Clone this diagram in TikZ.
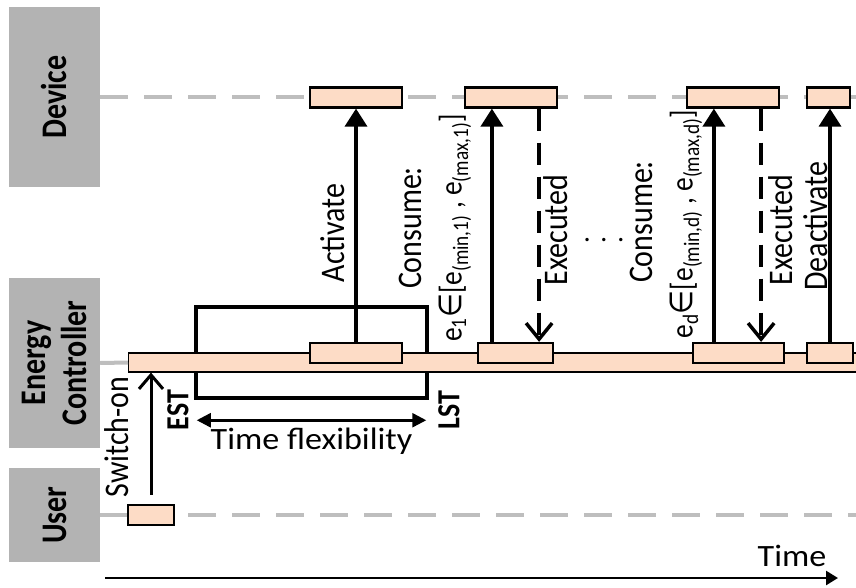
\documentclass[tikz,border=0pt]{standalone}
\usepackage{fontspec}
\setmainfont{Carlito}
\newfontfamily\symfont{DejaVu Sans}
\usetikzlibrary{arrows.meta,positioning}
\definecolor{SlotPeach}{HTML}{FDDCC6}
\definecolor{LaneGray}{HTML}{B3B3B3}
\definecolor{LifeGray}{HTML}{BEBEBE}
\tikzset{
  lane/.style={
    fill=LaneGray,
    rotate=90,
    yscale=1.2,
    minimum height=75.8pt,
    inner sep=0pt,
    align=center,
    font=\fontsize{30}{34}\selectfont\bfseries
  },
  slot/.style={draw=black, fill=SlotPeach, line width=2.2pt, minimum height=20pt, inner sep=0pt},
  lifeline/.style={draw=LifeGray, line width=4pt, dash pattern=on 28pt off 16pt},
  msg/.style={-{Triangle[length=18pt,width=22pt]}, line width=3.5pt},
  reply/.style={-{Straight Barb[length=16pt,width=26pt]}, line width=3.5pt, dash pattern=on 22pt off 12pt},
  vlabel/.style={rotate=90, yscale=1.15, inner sep=0pt, font=\fontsize{30}{34}\selectfont},
  rangelabel/.style={vlabel, font=\fontsize{27.5}{32}\selectfont},
  hlabel/.style={xscale=1.1, inner sep=0pt, font=\fontsize{31}{34}\selectfont}
}

\begin{document}
\begin{tikzpicture}[x=1pt,y=-1pt,font=\fontsize{28}{32}\selectfont]
  \useasboundingbox (0,0) rectangle (856,588);
  \coordinate (rightedge) at (856,0);

  % lanes
  \node[lane, minimum width=180pt] (devlane) at (54.5,97) {Device};
  \node[lane, minimum width=170pt] (ctllane) at (54.5,363) {Energy\\Controller};
  \node[lane, minimum width=94pt] (usrlane) at (54.5,515) {User};

  \draw[lifeline] (devlane.south) -- (devlane.south -| rightedge);
  \draw[lifeline] (usrlane.south) -- (usrlane.south -| rightedge);

  % flexibility window
  \node[draw, line width=4.5pt, minimum width=231pt, minimum height=91pt, inner sep=0pt] (flex) at (311.5,352.5) {};

  % controller bar and slots
  \node[slot, line width=1.2pt, minimum width=740pt, minimum height=19pt, anchor=west] (ctlbar) at (128,362.5) {};
  \draw[lifeline] (ctllane.south) -- (ctlbar.west);
  \node[slot, minimum width=92pt] (ctl1) at (356,353) {};
  \node[slot, minimum width=75pt] (ctl2) at (515.5,353) {};
  \node[slot, minimum width=91pt] (ctl3) at (738.5,353) {};
  \node[slot, minimum width=46pt] (ctl4) at (830,353) {};

  % device slots
  \node[slot, minimum width=92pt] (dev1) at (356,97.5) {};
  \node[slot, minimum width=92pt] (dev2) at (511,97.5) {};
  \node[slot, minimum width=92pt] (dev3) at (733,97.5) {};
  \node[slot, minimum width=43pt] (dev4) at (828.5,97.5) {};

  % user slot
  \node[slot, minimum width=46pt] (usr) at (151,515) {};

  % messages
  \draw[-{Straight Barb[length=14pt,width=24pt]}, line width=3pt] ([yshift=9pt]usr.north) -- (usr.north |- ctlbar.south);
  \draw[msg] (ctl1.north) -- (dev1.south);
  \draw[msg] ([xshift=15pt]ctl2.north west) -- ([xshift=15pt]ctl2.north west |- dev2.south);
  \draw[reply] ([xshift=-15pt]ctl2.north east |- dev2.south) -- ([xshift=-15pt]ctl2.north east);
  \draw[msg] ([xshift=22pt]ctl3.north west) -- ([xshift=22pt]ctl3.north west |- dev3.south);
  \draw[reply] ([xshift=-24pt]ctl3.north east |- dev3.south) -- ([xshift=-24pt]ctl3.north east);
  \draw[msg] (ctl4.north) -- (ctl4.north |- dev4.south);

  % labels
  \node[vlabel] (swon) at (117,437) {Switch-on};
  \node[vlabel, font=\fontsize{28}{32}\selectfont\bfseries] (est) at (178,410) {EST};
  \node[vlabel, font=\fontsize{28}{32}\selectfont\bfseries] (lst) at (449,410) {LST};
  \node[vlabel] (act1) at (333,233) {Activate};
  \node[vlabel] (cons1) at (410,228) {Consume:};
  \node[rangelabel] (rng1) at (455,228) {e\textsubscript{1}{\symfont ∈}[e\textsubscript{(min,1)} , e\textsubscript{(max,1)}]};
  \node[vlabel] (exec1) at (556,230) {Executed};
  \node (dots) at (604,240) {.\hspace{0.35em}.\hspace{0.35em}.};
  \node[vlabel] (cons2) at (641,222) {Consume:};
  \node[rangelabel] (rng2) at (686,224) {e\textsubscript{d}{\symfont ∈}[e\textsubscript{(min,d)} , e\textsubscript{(max,d)}]};
  \node[vlabel] (exec2) at (781,230) {Executed};
  \node[vlabel] (deact) at (816,226) {Deactivate};

  % time flexibility
  \draw[{Triangle[length=14pt,width=14pt]}-{Triangle[length=14pt,width=14pt]}, line width=2.5pt]
    ([yshift=-20pt,xshift=3pt]flex.south west) -- ([yshift=-20pt,xshift=-3pt]flex.south east)
    node[hlabel, midway, below=6pt] (tflex) {Time flexibility};

  % time axis
  \coordinate (t0) at (105,578);
  \coordinate (t1) at (838,578);
  \draw[-{Triangle[length=12pt,width=14pt]}, line width=2.5pt] (t0) -- (t1);
  \node[hlabel] (timelbl) at (792,556) {Time};
\end{tikzpicture}
\end{document}
